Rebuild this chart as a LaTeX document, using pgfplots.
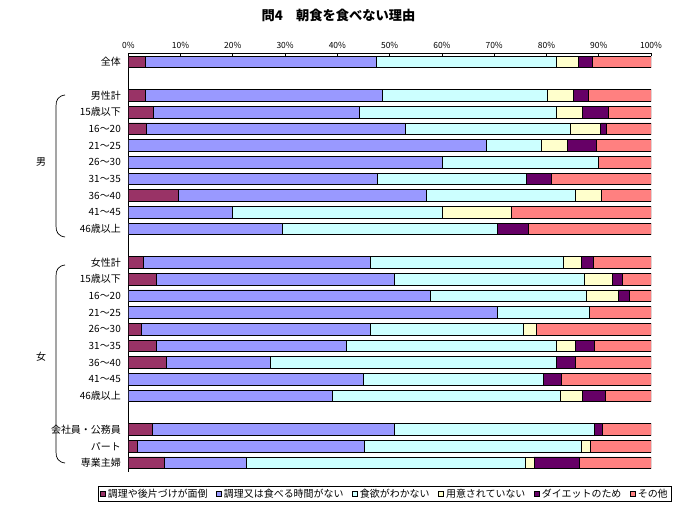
\documentclass[border=0pt]{standalone}
\usepackage{pgfplots}
\pgfplotsset{compat=1.18}
\usepackage{pgfplotstable}
\usepackage{fontspec}
\setmainfont{Noto Sans CJK JP}
\definecolor{cA}{HTML}{993366}
\definecolor{cB}{HTML}{9999FF}
\definecolor{cC}{HTML}{CCFFFF}
\definecolor{cD}{HTML}{FFFFCC}
\definecolor{cE}{HTML}{660066}
\definecolor{cF}{HTML}{FF8080}
\pgfplotstableread{
y  s1  s2   s3   s4   s5  s6
0  3.2 44.2 34.5 4.2  2.6 11.3
2  3.2 45.4 31.5 5.1  2.9 11.9
3  4.8 39.5 37.6 4.9  5.0 8.2
4  3.4 49.6 31.6 5.8  1.0 8.6
5  0   68.5 10.5 5.1  5.4 10.5
6  0   60.0 29.9 0    0   10.1
7  0   47.6 28.5 0    4.8 19.1
8  9.5 47.6 28.5 4.9  0   9.5
9  0   20.0 40.0 13.2 0   26.8
10 0   29.4 41.2 0    5.9 23.5
12 2.9 43.5 36.8 3.4  2.3 11.1
13 5.4 45.5 36.3 5.5  1.8 5.5
14 0   57.7 29.9 6.1  2.1 4.2
15 0   70.6 17.6 0    0   11.8
16 2.5 43.9 29.1 2.5  0   22.0
17 5.4 36.4 40.1 3.6  3.6 10.9
18 7.3 19.9 54.7 0    3.6 14.5
19 0   44.9 34.5 0    3.4 17.2
20 0   39.1 43.6 4.1  4.4 8.8
22 4.7 46.2 38.2 0    1.6 9.3
23 1.8 43.3 41.6 1.7  0   11.6
24 7.0 15.5 53.4 1.7  8.7 13.7
}\datatable
\begin{document}
\begin{tikzpicture}
\useasboundingbox (0,0) rectangle (680bp,510bp);
\node[font=\fontsize{13.3}{15}\selectfont\bfseries] at (338.5bp,495bp) {問4　朝食を食べない理由};
\begin{axis}[
  at={(128.3bp,456.7bp)}, anchor=north west,
  scale only axis, width=522.7bp, height=418.7bp,
  xmin=0, xmax=100, ymin=-0.52, ymax=24.55, y dir=reverse,
  enlargelimits=false,
  xbar stacked, bar width=11.7bp,
  axis x line*=top, axis y line*=left,
  axis line style={-, line width=0.8bp},
  xtick={0,10,20,30,40,50,60,70,80,90,100},
  xticklabels={0\%,10\%,20\%,30\%,40\%,50\%,60\%,70\%,80\%,90\%,100\%},
  xtick align=inside, major tick length=3bp,
  x tick style={line width=0.7bp, black},
  xticklabel style={font=\fontsize{8.5}{9}\selectfont, yshift=1.5bp},
  ytick={0,2,3,4,5,6,7,8,9,10,12,13,14,15,16,17,18,19,20,22,23,24},
  yticklabels={全体,男性計,15歳以下,16～20,21～25,26～30,31～35,36～40,41～45,46歳以上,女性計,15歳以下,16～20,21～25,26～30,31～35,36～40,41～45,46歳以上,会社員・公務員,パート,専業主婦},
  y tick style={draw=none},
  yticklabel style={font=\fontsize{10}{11}\selectfont, xshift=-4bp},
  every axis plot/.append style={draw=black, line width=0.8bp},
  legend image code/.code={\draw[#1, line width=0.6bp] (0bp,-2.6bp) rectangle (5.2bp,2.6bp);},
  legend columns=6,
  legend style={at={(0.491,-0.0525)}, anchor=center, draw=black, line width=0.6bp,
    font=\fontsize{10}{11}\selectfont, inner xsep=2bp, inner ysep=0.5bp,
    /tikz/every even column/.append style={column sep=6.6bp}},
]
\addplot[fill=cA] table[x=s1,y=y] {\datatable};
\addplot[fill=cB] table[x=s2,y=y] {\datatable};
\addplot[fill=cC] table[x=s3,y=y] {\datatable};
\addplot[fill=cD] table[x=s4,y=y] {\datatable};
\addplot[fill=cE] table[x=s5,y=y] {\datatable};
\addplot[fill=cF] table[x=s6,y=y] {\datatable};
\legend{調理や後片づけが面倒,調理又は食べる時間がない,食欲がわかない,用意されていない,ダイエットのため,その他}
\end{axis}
\draw[line width=0.7bp] (65bp,415bp) .. controls (58bp,414bp) and (56bp,410bp) .. (56bp,404bp) -- (56bp,284bp) .. controls (56bp,278bp) and (58bp,274bp) .. (65bp,273bp);
\draw[line width=0.7bp] (65bp,245bp) .. controls (58bp,244bp) and (56bp,240bp) .. (56bp,234bp) -- (56bp,58bp) .. controls (56bp,52bp) and (58bp,48bp) .. (65bp,47bp);
\node[font=\fontsize{10}{11}\selectfont] at (41bp,348bp) {男};
\node[font=\fontsize{10}{11}\selectfont] at (41bp,153bp) {女};
\end{tikzpicture}
\end{document}
